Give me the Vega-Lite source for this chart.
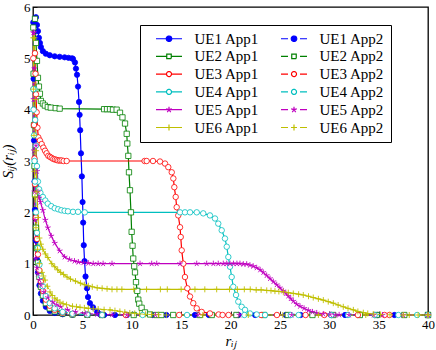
{
"$schema": "https://vega.github.io/schema/vega-lite/v6.json",
"width": 395, "height": 308,
"autosize": {"type": "none"},
"padding": {"left": 33, "top": 7, "right": 8, "bottom": 35},
"config": {
  "view": {"stroke": "#000", "strokeWidth": 1.3},
  "axis": {"labelFont": "Liberation Serif", "labelFontSize": 13, "labelColor": "#000", "titleFont": "Liberation Serif", "titleFontSize": 15, "titleFontStyle": "italic", "titleFontWeight": "normal", "titleColor": "#000", "grid": false, "domain": false, "tickColor": "#000", "tickSize": -4, "tickWidth": 0.8, "labelPadding": 7, "labelFlush": false}
},
"data": {"values": [
{"s":"UE1 App1","x":0.3,"y":5.8},{"s":"UE1 App1","x":0.4,"y":5.65},{"s":"UE1 App1","x":0.5,"y":5.53},{"s":"UE1 App1","x":0.6,"y":5.4},{"s":"UE1 App1","x":0.7,"y":5.3},{"s":"UE1 App1","x":0.8,"y":5.22},{"s":"UE1 App1","x":1.0,"y":5.14},{"s":"UE1 App1","x":1.3,"y":5.09},{"s":"UE1 App1","x":1.7,"y":5.06},{"s":"UE1 App1","x":2.2,"y":5.04},{"s":"UE1 App1","x":2.7,"y":5.03},{"s":"UE1 App1","x":3.2,"y":5.02},{"s":"UE1 App1","x":3.6,"y":5.01},{"s":"UE1 App1","x":3.95,"y":5.0},{"s":"UE1 App1","x":4.05,"y":4.99},{"s":"UE1 App1","x":4.25,"y":4.92},{"s":"UE1 App1","x":4.35,"y":4.8},{"s":"UE1 App1","x":4.46,"y":4.68},{"s":"UE1 App1","x":4.56,"y":4.45},{"s":"UE1 App1","x":4.66,"y":4.15},{"s":"UE1 App1","x":4.72,"y":3.9},{"s":"UE1 App1","x":4.78,"y":3.6},{"s":"UE1 App1","x":4.86,"y":3.15},{"s":"UE1 App1","x":4.95,"y":2.7},{"s":"UE1 App1","x":5.02,"y":2.2},{"s":"UE1 App1","x":5.08,"y":1.8},{"s":"UE1 App1","x":5.14,"y":1.36},{"s":"UE1 App1","x":5.22,"y":1.05},{"s":"UE1 App1","x":5.32,"y":0.75},{"s":"UE1 App1","x":5.47,"y":0.52},{"s":"UE1 App1","x":5.57,"y":0.35},{"s":"UE1 App1","x":5.77,"y":0.23},{"s":"UE1 App1","x":6.08,"y":0.15},{"s":"UE1 App1","x":6.5,"y":0.06},{"s":"UE1 App1","x":6.8,"y":0.01},{"s":"UE1 App1","x":7.2,"y":0},{"s":"UE1 App1","x":9.5,"y":0},{"s":"UE1 App1","x":13.5,"y":0},{"s":"UE1 App1","x":17.8,"y":0},{"s":"UE1 App1","x":22.5,"y":0},{"s":"UE1 App1","x":27.1,"y":0},{"s":"UE1 App1","x":31.6,"y":0},{"s":"UE1 App1","x":36.6,"y":0},{"s":"UE1 App1","x":40,"y":0},
{"s":"UE1 App2","x":0.03,"y":5.7},{"s":"UE1 App2","x":0.06,"y":4.6},{"s":"UE1 App2","x":0.1,"y":3.4},{"s":"UE1 App2","x":0.15,"y":2.6},{"s":"UE1 App2","x":0.2,"y":2.05},{"s":"UE1 App2","x":0.3,"y":1.45},{"s":"UE1 App2","x":0.4,"y":1.08},{"s":"UE1 App2","x":0.5,"y":0.83},{"s":"UE1 App2","x":0.65,"y":0.58},{"s":"UE1 App2","x":0.8,"y":0.42},{"s":"UE1 App2","x":1.0,"y":0.28},{"s":"UE1 App2","x":1.3,"y":0.16},{"s":"UE1 App2","x":1.7,"y":0.08},{"s":"UE1 App2","x":2.2,"y":0.04},{"s":"UE1 App2","x":3.0,"y":0.015},{"s":"UE1 App2","x":4.0,"y":0.005},{"s":"UE1 App2","x":5.5,"y":0},{"s":"UE1 App2","x":8.3,"y":0},{"s":"UE1 App2","x":12.1,"y":0},{"s":"UE1 App2","x":16.4,"y":0},{"s":"UE1 App2","x":20.8,"y":0},{"s":"UE1 App2","x":25.6,"y":0},{"s":"UE1 App2","x":30.2,"y":0},{"s":"UE1 App2","x":34.9,"y":0},{"s":"UE1 App2","x":40,"y":0},
{"s":"UE2 App1","x":0.2,"y":5.77},{"s":"UE2 App1","x":0.3,"y":5.3},{"s":"UE2 App1","x":0.4,"y":4.95},{"s":"UE2 App1","x":0.5,"y":4.62},{"s":"UE2 App1","x":0.6,"y":4.45},{"s":"UE2 App1","x":0.7,"y":4.31},{"s":"UE2 App1","x":0.8,"y":4.17},{"s":"UE2 App1","x":1.0,"y":4.12},{"s":"UE2 App1","x":1.2,"y":4.08},{"s":"UE2 App1","x":1.5,"y":4.05},{"s":"UE2 App1","x":1.8,"y":4.04},{"s":"UE2 App1","x":2.3,"y":4.03},{"s":"UE2 App1","x":2.7,"y":4.02},{"s":"UE2 App1","x":7.2,"y":4.01},{"s":"UE2 App1","x":7.5,"y":4.01},{"s":"UE2 App1","x":7.8,"y":4.01},{"s":"UE2 App1","x":8.1,"y":4.0},{"s":"UE2 App1","x":8.47,"y":4.0},{"s":"UE2 App1","x":8.81,"y":3.94},{"s":"UE2 App1","x":9.06,"y":3.85},{"s":"UE2 App1","x":9.32,"y":3.73},{"s":"UE2 App1","x":9.49,"y":3.53},{"s":"UE2 App1","x":9.55,"y":3.34},{"s":"UE2 App1","x":9.65,"y":3.1},{"s":"UE2 App1","x":9.72,"y":2.78},{"s":"UE2 App1","x":9.82,"y":2.43},{"s":"UE2 App1","x":9.92,"y":2.0},{"s":"UE2 App1","x":9.99,"y":1.62},{"s":"UE2 App1","x":10.08,"y":1.35},{"s":"UE2 App1","x":10.15,"y":1.1},{"s":"UE2 App1","x":10.25,"y":0.95},{"s":"UE2 App1","x":10.33,"y":0.83},{"s":"UE2 App1","x":10.43,"y":0.64},{"s":"UE2 App1","x":10.56,"y":0.47},{"s":"UE2 App1","x":10.66,"y":0.3},{"s":"UE2 App1","x":10.76,"y":0.22},{"s":"UE2 App1","x":11.0,"y":0.14},{"s":"UE2 App1","x":11.34,"y":0.05},{"s":"UE2 App1","x":11.85,"y":0.01},{"s":"UE2 App1","x":12.5,"y":0},{"s":"UE2 App1","x":14.2,"y":0},{"s":"UE2 App1","x":16.9,"y":0},{"s":"UE2 App1","x":20.6,"y":0},{"s":"UE2 App1","x":25.8,"y":0},{"s":"UE2 App1","x":30.4,"y":0},{"s":"UE2 App1","x":34.8,"y":0},{"s":"UE2 App1","x":40,"y":0},
{"s":"UE2 App2","x":0.03,"y":5.6},{"s":"UE2 App2","x":0.06,"y":4.7},{"s":"UE2 App2","x":0.1,"y":3.7},{"s":"UE2 App2","x":0.15,"y":2.9},{"s":"UE2 App2","x":0.2,"y":2.35},{"s":"UE2 App2","x":0.3,"y":1.7},{"s":"UE2 App2","x":0.4,"y":1.3},{"s":"UE2 App2","x":0.5,"y":1.02},{"s":"UE2 App2","x":0.65,"y":0.74},{"s":"UE2 App2","x":0.8,"y":0.55},{"s":"UE2 App2","x":1.0,"y":0.38},{"s":"UE2 App2","x":1.3,"y":0.23},{"s":"UE2 App2","x":1.7,"y":0.13},{"s":"UE2 App2","x":2.2,"y":0.07},{"s":"UE2 App2","x":3.0,"y":0.03},{"s":"UE2 App2","x":4.0,"y":0.01},{"s":"UE2 App2","x":5.5,"y":0.003},{"s":"UE2 App2","x":7,"y":0},{"s":"UE2 App2","x":10.2,"y":0},{"s":"UE2 App2","x":13.0,"y":0},{"s":"UE2 App2","x":18.1,"y":0},{"s":"UE2 App2","x":23.4,"y":0},{"s":"UE2 App2","x":28.3,"y":0},{"s":"UE2 App2","x":33.1,"y":0},{"s":"UE2 App2","x":37.6,"y":0},{"s":"UE2 App2","x":40,"y":0},
{"s":"UE3 App1","x":0.2,"y":5.1},{"s":"UE3 App1","x":0.25,"y":4.7},{"s":"UE3 App1","x":0.3,"y":4.3},{"s":"UE3 App1","x":0.37,"y":3.95},{"s":"UE3 App1","x":0.45,"y":3.65},{"s":"UE3 App1","x":0.54,"y":3.46},{"s":"UE3 App1","x":0.7,"y":3.4},{"s":"UE3 App1","x":0.88,"y":3.33},{"s":"UE3 App1","x":1.05,"y":3.26},{"s":"UE3 App1","x":1.22,"y":3.2},{"s":"UE3 App1","x":1.38,"y":3.15},{"s":"UE3 App1","x":1.55,"y":3.1},{"s":"UE3 App1","x":1.72,"y":3.08},{"s":"UE3 App1","x":1.89,"y":3.06},{"s":"UE3 App1","x":2.06,"y":3.04},{"s":"UE3 App1","x":2.23,"y":3.03},{"s":"UE3 App1","x":2.4,"y":3.02},{"s":"UE3 App1","x":2.56,"y":3.01},{"s":"UE3 App1","x":2.73,"y":3.01},{"s":"UE3 App1","x":2.9,"y":3.01},{"s":"UE3 App1","x":3.1,"y":3.0},{"s":"UE3 App1","x":3.41,"y":3.0},{"s":"UE3 App1","x":11.3,"y":3.0},{"s":"UE3 App1","x":11.51,"y":3.0},{"s":"UE3 App1","x":12.15,"y":3.0},{"s":"UE3 App1","x":12.86,"y":2.99},{"s":"UE3 App1","x":13.37,"y":2.95},{"s":"UE3 App1","x":13.7,"y":2.88},{"s":"UE3 App1","x":14.05,"y":2.78},{"s":"UE3 App1","x":14.21,"y":2.66},{"s":"UE3 App1","x":14.31,"y":2.49},{"s":"UE3 App1","x":14.45,"y":2.3},{"s":"UE3 App1","x":14.55,"y":2.1},{"s":"UE3 App1","x":14.71,"y":1.94},{"s":"UE3 App1","x":14.89,"y":1.71},{"s":"UE3 App1","x":14.96,"y":1.52},{"s":"UE3 App1","x":15.06,"y":1.26},{"s":"UE3 App1","x":15.22,"y":1.0},{"s":"UE3 App1","x":15.39,"y":0.74},{"s":"UE3 App1","x":15.63,"y":0.52},{"s":"UE3 App1","x":15.9,"y":0.36},{"s":"UE3 App1","x":16.23,"y":0.23},{"s":"UE3 App1","x":16.58,"y":0.13},{"s":"UE3 App1","x":17.08,"y":0.06},{"s":"UE3 App1","x":17.92,"y":0.03},{"s":"UE3 App1","x":18.8,"y":0.01},{"s":"UE3 App1","x":19.8,"y":0},{"s":"UE3 App1","x":23.1,"y":0},{"s":"UE3 App1","x":27.6,"y":0},{"s":"UE3 App1","x":32.9,"y":0},{"s":"UE3 App1","x":36.1,"y":0},{"s":"UE3 App1","x":40,"y":0},
{"s":"UE3 App2","x":0.03,"y":5.0},{"s":"UE3 App2","x":0.06,"y":4.4},{"s":"UE3 App2","x":0.1,"y":3.7},{"s":"UE3 App2","x":0.15,"y":3.05},{"s":"UE3 App2","x":0.2,"y":2.55},{"s":"UE3 App2","x":0.3,"y":1.9},{"s":"UE3 App2","x":0.4,"y":1.48},{"s":"UE3 App2","x":0.5,"y":1.18},{"s":"UE3 App2","x":0.65,"y":0.87},{"s":"UE3 App2","x":0.8,"y":0.66},{"s":"UE3 App2","x":1.0,"y":0.47},{"s":"UE3 App2","x":1.3,"y":0.3},{"s":"UE3 App2","x":1.7,"y":0.18},{"s":"UE3 App2","x":2.2,"y":0.1},{"s":"UE3 App2","x":3.0,"y":0.045},{"s":"UE3 App2","x":4.0,"y":0.02},{"s":"UE3 App2","x":5.5,"y":0.006},{"s":"UE3 App2","x":7,"y":0},{"s":"UE3 App2","x":9.4,"y":0},{"s":"UE3 App2","x":14.8,"y":0},{"s":"UE3 App2","x":19.2,"y":0},{"s":"UE3 App2","x":24.7,"y":0},{"s":"UE3 App2","x":29.5,"y":0},{"s":"UE3 App2","x":35.6,"y":0},{"s":"UE3 App2","x":40,"y":0},
{"s":"UE4 App1","x":0.15,"y":4.4},{"s":"UE4 App1","x":0.22,"y":3.8},{"s":"UE4 App1","x":0.3,"y":3.3},{"s":"UE4 App1","x":0.4,"y":2.9},{"s":"UE4 App1","x":0.5,"y":2.6},{"s":"UE4 App1","x":0.62,"y":2.45},{"s":"UE4 App1","x":0.75,"y":2.38},{"s":"UE4 App1","x":1.0,"y":2.3},{"s":"UE4 App1","x":1.25,"y":2.23},{"s":"UE4 App1","x":1.5,"y":2.17},{"s":"UE4 App1","x":1.85,"y":2.12},{"s":"UE4 App1","x":2.2,"y":2.08},{"s":"UE4 App1","x":2.55,"y":2.06},{"s":"UE4 App1","x":2.87,"y":2.04},{"s":"UE4 App1","x":3.2,"y":2.03},{"s":"UE4 App1","x":3.54,"y":2.02},{"s":"UE4 App1","x":4.05,"y":2.01},{"s":"UE4 App1","x":4.56,"y":2.01},{"s":"UE4 App1","x":5.24,"y":2.0},{"s":"UE4 App1","x":14.89,"y":2.0},{"s":"UE4 App1","x":15.39,"y":2.0},{"s":"UE4 App1","x":15.9,"y":2.0},{"s":"UE4 App1","x":16.58,"y":2.0},{"s":"UE4 App1","x":17.24,"y":1.98},{"s":"UE4 App1","x":17.92,"y":1.94},{"s":"UE4 App1","x":18.43,"y":1.88},{"s":"UE4 App1","x":18.76,"y":1.78},{"s":"UE4 App1","x":19.11,"y":1.65},{"s":"UE4 App1","x":19.44,"y":1.49},{"s":"UE4 App1","x":19.62,"y":1.33},{"s":"UE4 App1","x":19.78,"y":1.13},{"s":"UE4 App1","x":19.95,"y":0.94},{"s":"UE4 App1","x":20.12,"y":0.74},{"s":"UE4 App1","x":20.28,"y":0.55},{"s":"UE4 App1","x":20.56,"y":0.39},{"s":"UE4 App1","x":20.79,"y":0.26},{"s":"UE4 App1","x":21.13,"y":0.16},{"s":"UE4 App1","x":21.47,"y":0.1},{"s":"UE4 App1","x":21.97,"y":0.03},{"s":"UE4 App1","x":22.65,"y":0.01},{"s":"UE4 App1","x":23.5,"y":0},{"s":"UE4 App1","x":26.1,"y":0},{"s":"UE4 App1","x":30.2,"y":0},{"s":"UE4 App1","x":34.6,"y":0},{"s":"UE4 App1","x":38.9,"y":0},{"s":"UE4 App1","x":40,"y":0},
{"s":"UE4 App2","x":0.03,"y":4.4},{"s":"UE4 App2","x":0.06,"y":4.0},{"s":"UE4 App2","x":0.1,"y":3.5},{"s":"UE4 App2","x":0.15,"y":3.0},{"s":"UE4 App2","x":0.2,"y":2.6},{"s":"UE4 App2","x":0.3,"y":2.0},{"s":"UE4 App2","x":0.4,"y":1.6},{"s":"UE4 App2","x":0.5,"y":1.3},{"s":"UE4 App2","x":0.65,"y":0.98},{"s":"UE4 App2","x":0.8,"y":0.76},{"s":"UE4 App2","x":1.0,"y":0.56},{"s":"UE4 App2","x":1.3,"y":0.37},{"s":"UE4 App2","x":1.7,"y":0.23},{"s":"UE4 App2","x":2.2,"y":0.13},{"s":"UE4 App2","x":3.0,"y":0.06},{"s":"UE4 App2","x":4.0,"y":0.025},{"s":"UE4 App2","x":5.5,"y":0.008},{"s":"UE4 App2","x":7,"y":0},{"s":"UE4 App2","x":11.1,"y":0},{"s":"UE4 App2","x":15.6,"y":0},{"s":"UE4 App2","x":21.4,"y":0},{"s":"UE4 App2","x":26.9,"y":0},{"s":"UE4 App2","x":31.9,"y":0},{"s":"UE4 App2","x":37.0,"y":0},{"s":"UE4 App2","x":40,"y":0},
{"s":"UE5 App1","x":0.1,"y":5.5},{"s":"UE5 App1","x":0.15,"y":4.8},{"s":"UE5 App1","x":0.2,"y":4.2},{"s":"UE5 App1","x":0.3,"y":3.3},{"s":"UE5 App1","x":0.4,"y":2.8},{"s":"UE5 App1","x":0.5,"y":2.4},{"s":"UE5 App1","x":0.62,"y":2.28},{"s":"UE5 App1","x":0.75,"y":2.2},{"s":"UE5 App1","x":1.0,"y":2.04},{"s":"UE5 App1","x":1.25,"y":1.85},{"s":"UE5 App1","x":1.5,"y":1.7},{"s":"UE5 App1","x":1.85,"y":1.54},{"s":"UE5 App1","x":2.2,"y":1.4},{"s":"UE5 App1","x":2.7,"y":1.25},{"s":"UE5 App1","x":3.2,"y":1.13},{"s":"UE5 App1","x":3.7,"y":1.08},{"s":"UE5 App1","x":4.2,"y":1.05},{"s":"UE5 App1","x":4.6,"y":1.03},{"s":"UE5 App1","x":5.1,"y":1.02},{"s":"UE5 App1","x":5.6,"y":1.01},{"s":"UE5 App1","x":6.1,"y":1.0},{"s":"UE5 App1","x":6.6,"y":1.0},{"s":"UE5 App1","x":7.1,"y":1.0},{"s":"UE5 App1","x":8.0,"y":1.0},{"s":"UE5 App1","x":10.84,"y":1.0},{"s":"UE5 App1","x":12.02,"y":1.0},{"s":"UE5 App1","x":12.53,"y":1.0},{"s":"UE5 App1","x":14.89,"y":1.0},{"s":"UE5 App1","x":16.58,"y":1.0},{"s":"UE5 App1","x":17.59,"y":1.0},{"s":"UE5 App1","x":18.26,"y":1.0},{"s":"UE5 App1","x":18.76,"y":1.0},{"s":"UE5 App1","x":19.27,"y":1.0},{"s":"UE5 App1","x":19.62,"y":1.0},{"s":"UE5 App1","x":19.95,"y":1.0},{"s":"UE5 App1","x":20.3,"y":1.0},{"s":"UE5 App1","x":20.65,"y":1.0},{"s":"UE5 App1","x":20.96,"y":1.0},{"s":"UE5 App1","x":21.3,"y":0.99},{"s":"UE5 App1","x":21.64,"y":0.99},{"s":"UE5 App1","x":21.97,"y":0.97},{"s":"UE5 App1","x":22.3,"y":0.95},{"s":"UE5 App1","x":22.65,"y":0.92},{"s":"UE5 App1","x":23.0,"y":0.88},{"s":"UE5 App1","x":23.32,"y":0.83},{"s":"UE5 App1","x":23.66,"y":0.77},{"s":"UE5 App1","x":24.0,"y":0.71},{"s":"UE5 App1","x":24.34,"y":0.65},{"s":"UE5 App1","x":24.68,"y":0.59},{"s":"UE5 App1","x":25.0,"y":0.53},{"s":"UE5 App1","x":25.35,"y":0.47},{"s":"UE5 App1","x":25.6,"y":0.42},{"s":"UE5 App1","x":25.85,"y":0.37},{"s":"UE5 App1","x":26.1,"y":0.32},{"s":"UE5 App1","x":26.36,"y":0.27},{"s":"UE5 App1","x":26.7,"y":0.21},{"s":"UE5 App1","x":27.04,"y":0.17},{"s":"UE5 App1","x":27.45,"y":0.13},{"s":"UE5 App1","x":27.88,"y":0.09},{"s":"UE5 App1","x":28.3,"y":0.06},{"s":"UE5 App1","x":28.73,"y":0.04},{"s":"UE5 App1","x":29.4,"y":0.02},{"s":"UE5 App1","x":30.08,"y":0.01},{"s":"UE5 App1","x":31,"y":0.003},{"s":"UE5 App1","x":32,"y":0},{"s":"UE5 App1","x":34.5,"y":0},{"s":"UE5 App1","x":37.5,"y":0},{"s":"UE5 App1","x":40,"y":0},
{"s":"UE5 App2","x":0.03,"y":5.5},{"s":"UE5 App2","x":0.06,"y":4.2},{"s":"UE5 App2","x":0.1,"y":3.2},{"s":"UE5 App2","x":0.15,"y":2.4},{"s":"UE5 App2","x":0.2,"y":1.85},{"s":"UE5 App2","x":0.3,"y":1.1},{"s":"UE5 App2","x":0.4,"y":0.92},{"s":"UE5 App2","x":0.5,"y":0.8},{"s":"UE5 App2","x":0.65,"y":0.68},{"s":"UE5 App2","x":0.8,"y":0.58},{"s":"UE5 App2","x":1.1,"y":0.45},{"s":"UE5 App2","x":1.5,"y":0.34},{"s":"UE5 App2","x":2.0,"y":0.25},{"s":"UE5 App2","x":2.4,"y":0.2},{"s":"UE5 App2","x":2.8,"y":0.16},{"s":"UE5 App2","x":3.5,"y":0.1},{"s":"UE5 App2","x":4.3,"y":0.06},{"s":"UE5 App2","x":5.3,"y":0.03},{"s":"UE5 App2","x":6.5,"y":0.015},{"s":"UE5 App2","x":8,"y":0.005},{"s":"UE5 App2","x":9.5,"y":0},{"s":"UE5 App2","x":12.4,"y":0},{"s":"UE5 App2","x":16.7,"y":0},{"s":"UE5 App2","x":20.9,"y":0},{"s":"UE5 App2","x":26.2,"y":0},{"s":"UE5 App2","x":30.6,"y":0},{"s":"UE5 App2","x":35.4,"y":0},{"s":"UE5 App2","x":40,"y":0},
{"s":"UE6 App1","x":0.15,"y":5.4},{"s":"UE6 App1","x":0.22,"y":4.2},{"s":"UE6 App1","x":0.3,"y":3.2},{"s":"UE6 App1","x":0.4,"y":2.4},{"s":"UE6 App1","x":0.5,"y":1.9},{"s":"UE6 App1","x":0.65,"y":1.5},{"s":"UE6 App1","x":0.8,"y":1.38},{"s":"UE6 App1","x":1.0,"y":1.28},{"s":"UE6 App1","x":1.25,"y":1.19},{"s":"UE6 App1","x":1.5,"y":1.12},{"s":"UE6 App1","x":1.9,"y":1.0},{"s":"UE6 App1","x":2.2,"y":0.94},{"s":"UE6 App1","x":2.5,"y":0.88},{"s":"UE6 App1","x":2.8,"y":0.83},{"s":"UE6 App1","x":3.1,"y":0.79},{"s":"UE6 App1","x":3.45,"y":0.74},{"s":"UE6 App1","x":3.8,"y":0.7},{"s":"UE6 App1","x":4.3,"y":0.66},{"s":"UE6 App1","x":4.8,"y":0.62},{"s":"UE6 App1","x":5.2,"y":0.59},{"s":"UE6 App1","x":5.6,"y":0.57},{"s":"UE6 App1","x":6.0,"y":0.55},{"s":"UE6 App1","x":6.5,"y":0.53},{"s":"UE6 App1","x":7.0,"y":0.52},{"s":"UE6 App1","x":7.5,"y":0.51},{"s":"UE6 App1","x":8.0,"y":0.5},{"s":"UE6 App1","x":8.5,"y":0.5},{"s":"UE6 App1","x":9.0,"y":0.5},{"s":"UE6 App1","x":10.2,"y":0.5},{"s":"UE6 App1","x":11.5,"y":0.5},{"s":"UE6 App1","x":12.9,"y":0.5},{"s":"UE6 App1","x":13.6,"y":0.5},{"s":"UE6 App1","x":15.0,"y":0.5},{"s":"UE6 App1","x":16.4,"y":0.5},{"s":"UE6 App1","x":17.4,"y":0.5},{"s":"UE6 App1","x":18.6,"y":0.5},{"s":"UE6 App1","x":19.9,"y":0.5},{"s":"UE6 App1","x":20.7,"y":0.5},{"s":"UE6 App1","x":21.4,"y":0.5},{"s":"UE6 App1","x":22.0,"y":0.5},{"s":"UE6 App1","x":22.6,"y":0.49},{"s":"UE6 App1","x":23.1,"y":0.49},{"s":"UE6 App1","x":23.67,"y":0.48},{"s":"UE6 App1","x":24.1,"y":0.475},{"s":"UE6 App1","x":24.5,"y":0.465},{"s":"UE6 App1","x":24.9,"y":0.458},{"s":"UE6 App1","x":25.35,"y":0.45},{"s":"UE6 App1","x":25.85,"y":0.435},{"s":"UE6 App1","x":26.36,"y":0.42},{"s":"UE6 App1","x":26.9,"y":0.405},{"s":"UE6 App1","x":27.37,"y":0.39},{"s":"UE6 App1","x":27.9,"y":0.365},{"s":"UE6 App1","x":28.38,"y":0.34},{"s":"UE6 App1","x":28.9,"y":0.315},{"s":"UE6 App1","x":29.4,"y":0.29},{"s":"UE6 App1","x":29.9,"y":0.26},{"s":"UE6 App1","x":30.41,"y":0.23},{"s":"UE6 App1","x":30.9,"y":0.195},{"s":"UE6 App1","x":31.42,"y":0.16},{"s":"UE6 App1","x":31.9,"y":0.13},{"s":"UE6 App1","x":32.44,"y":0.1},{"s":"UE6 App1","x":32.9,"y":0.07},{"s":"UE6 App1","x":33.45,"y":0.045},{"s":"UE6 App1","x":33.9,"y":0.03},{"s":"UE6 App1","x":34.46,"y":0.02},{"s":"UE6 App1","x":35.2,"y":0.01},{"s":"UE6 App1","x":36.15,"y":0.005},{"s":"UE6 App1","x":37.5,"y":0},{"s":"UE6 App1","x":39,"y":0},{"s":"UE6 App1","x":40,"y":0},
{"s":"UE6 App2","x":0.03,"y":5.4},{"s":"UE6 App2","x":0.06,"y":4.4},{"s":"UE6 App2","x":0.1,"y":3.5},{"s":"UE6 App2","x":0.15,"y":2.8},{"s":"UE6 App2","x":0.2,"y":2.3},{"s":"UE6 App2","x":0.3,"y":1.7},{"s":"UE6 App2","x":0.45,"y":1.28},{"s":"UE6 App2","x":0.65,"y":1.0},{"s":"UE6 App2","x":0.9,"y":0.83},{"s":"UE6 App2","x":1.05,"y":0.76},{"s":"UE6 App2","x":1.22,"y":0.68},{"s":"UE6 App2","x":1.45,"y":0.56},{"s":"UE6 App2","x":1.72,"y":0.45},{"s":"UE6 App2","x":1.95,"y":0.38},{"s":"UE6 App2","x":2.2,"y":0.33},{"s":"UE6 App2","x":2.45,"y":0.29},{"s":"UE6 App2","x":2.73,"y":0.25},{"s":"UE6 App2","x":3.05,"y":0.22},{"s":"UE6 App2","x":3.4,"y":0.2},{"s":"UE6 App2","x":4.0,"y":0.17},{"s":"UE6 App2","x":4.4,"y":0.16},{"s":"UE6 App2","x":4.76,"y":0.15},{"s":"UE6 App2","x":5.2,"y":0.14},{"s":"UE6 App2","x":5.6,"y":0.13},{"s":"UE6 App2","x":6.1,"y":0.12},{"s":"UE6 App2","x":6.6,"y":0.115},{"s":"UE6 App2","x":7.2,"y":0.105},{"s":"UE6 App2","x":7.8,"y":0.1},{"s":"UE6 App2","x":8.3,"y":0.085},{"s":"UE6 App2","x":8.8,"y":0.07},{"s":"UE6 App2","x":9.3,"y":0.055},{"s":"UE6 App2","x":9.8,"y":0.04},{"s":"UE6 App2","x":10.3,"y":0.03},{"s":"UE6 App2","x":10.8,"y":0.02},{"s":"UE6 App2","x":11.4,"y":0.014},{"s":"UE6 App2","x":12,"y":0.01},{"s":"UE6 App2","x":12.7,"y":0.005},{"s":"UE6 App2","x":13.5,"y":0},{"s":"UE6 App2","x":17.2,"y":0},{"s":"UE6 App2","x":21.8,"y":0},{"s":"UE6 App2","x":25.3,"y":0},{"s":"UE6 App2","x":28.9,"y":0},{"s":"UE6 App2","x":33.7,"y":0},{"s":"UE6 App2","x":38.1,"y":0},{"s":"UE6 App2","x":40,"y":0}
]},
"encoding": {
  "x": {"field": "x", "type": "quantitative", "scale": {"domain": [0, 40], "nice": false}, "axis": {"values": [0,5,10,15,20,25,30,35,40], "title": "rᵢⱼ", "titlePadding": 2}},
  "y": {"field": "y", "type": "quantitative", "scale": {"domain": [0, 6], "nice": false}, "axis": {"values": [0,1,2,3,4,5,6], "title": "Sᵢⱼ(rᵢⱼ)", "titlePadding": 8}}
},
"layer": [
  {"transform": [{"filter": "indexof(datum.s, 'App1') >= 0"}],
   "mark": {"type": "line", "strokeWidth": 1.2},
   "encoding": {
     "stroke": {"field": "s", "type": "nominal",
       "scale": {"domain": ["UE1 App1","UE2 App1","UE3 App1","UE4 App1","UE5 App1","UE6 App1","UE1 App2","UE2 App2","UE3 App2","UE4 App2","UE5 App2","UE6 App2"],
                 "range": ["#0000ff","#008000","#ff0000","#00bfbf","#bf00bf","#bfbf00","#0000ff","#008000","#ff0000","#00bfbf","#bf00bf","#bfbf00"]},
       "legend": {"title": null, "orient": "none", "legendX": 107, "legendY": 18, "columns": 2, "padding": 6, "rowPadding": 1.8, "columnPadding": 11,
         "labelFont": "Liberation Serif", "labelFontSize": 15, "labelColor": "#000", "labelLimit": 0,
         "symbolSize": 100, "symbolStrokeWidth": 1.2, "symbolOffset": 15.5, "labelOffset": 18,
         "strokeColor": "#000", "fillColor": "#fff",
         "labelExpr": "indexof(datum.label, 'App2') >= 0 ? datum.label + '\u00a0\u00a0\u00a0\u00a0\u00a0\u00a0\u00a0\u00a0\u00a0\u00a0\u00a0\u00a0\u00a0\u00a0\u00a0\u00a0' : datum.label",
         "encode": {"symbols": {"update": {
           "shape": {"signal": "['M-2.6,0H2.6M0.55,0A0.55,0.55,0,1,1,-0.55,0A0.55,0.55,0,1,1,0.55,0Z','M-2.6,0H-1.2M1.2,0H2.6M0.55,0A0.55,0.55,0,1,1,-0.55,0A0.55,0.55,0,1,1,0.55,0Z','M-2.6,0H-0.45M0.45,0H2.6M-0.45,-0.45H0.45V0.45H-0.45Z','M-2.6,0H-1.2M1.2,0H2.6M-0.45,-0.45H0.45V0.45H-0.45Z','M-2.6,0H-0.5M0.5,0H2.6M0.5,0A0.5,0.5,0,1,1,-0.5,0A0.5,0.5,0,1,1,0.5,0Z','M-2.6,0H-1.2M1.2,0H2.6M0.5,0A0.5,0.5,0,1,1,-0.5,0A0.5,0.5,0,1,1,0.5,0Z','M-2.6,0H-0.5M0.5,0H2.6M0.5,0A0.5,0.5,0,1,1,-0.5,0A0.5,0.5,0,1,1,0.5,0Z','M-2.6,0H-1.2M1.2,0H2.6M0.5,0A0.5,0.5,0,1,1,-0.5,0A0.5,0.5,0,1,1,0.5,0Z','M-2.6,0H2.6M0,0L0,-0.6M0,0L0.57,-0.19M0,0L0.35,0.49M0,0L-0.35,0.49M0,0L-0.57,-0.19','M-2.6,0H-1.2M1.2,0H2.6M0,0L0,-0.6M0,0L0.57,-0.19M0,0L0.35,0.49M0,0L-0.35,0.49M0,0L-0.57,-0.19','M-2.6,0H2.6M0,-0.6V0.6','M-2.6,0H-1.2M1.2,0H2.6M-0.6,0H0.6M0,-0.6V0.6'][indexof(['UE1 App1','UE1 App2','UE2 App1','UE2 App2','UE3 App1','UE3 App2','UE4 App1','UE4 App2','UE5 App1','UE5 App2','UE6 App1','UE6 App2'], datum.value)]"},
           "fill": {"signal": "indexof(datum.value, 'UE1') >= 0 ? '#0000ff' : '#ffffff'"},
           "strokeDash": {"value": [1, 0]},
           "strokeWidth": {"value": 1.2},
           "opacity": {"value": 1}
         }}}
       }}
   }},
  {"transform": [{"filter": "indexof(datum.s, 'App2') >= 0"}],
   "mark": {"type": "line", "strokeWidth": 1.2, "strokeDash": [5, 3]},
   "encoding": {"stroke": {"field": "s", "type": "nominal", "legend": null}}},
  {"transform": [{"filter": "indexof(datum.s, 'UE1') >= 0"}],
   "mark": {"type": "point", "shape": "circle", "size": 28, "fill": "#0000ff", "strokeWidth": 0.8, "opacity": 1},
   "encoding": {"stroke": {"field": "s", "type": "nominal", "legend": null}}},
  {"transform": [{"filter": "indexof(datum.s, 'UE2') >= 0"}],
   "mark": {"type": "point", "shape": "square", "size": 28, "fill": "#ffffff", "strokeWidth": 0.8, "opacity": 1},
   "encoding": {"stroke": {"field": "s", "type": "nominal", "legend": null}}},
  {"transform": [{"filter": "indexof(datum.s, 'UE3') >= 0 || indexof(datum.s, 'UE4') >= 0"}],
   "mark": {"type": "point", "shape": "circle", "size": 30, "fill": "#ffffff", "strokeWidth": 0.8, "opacity": 1},
   "encoding": {"stroke": {"field": "s", "type": "nominal", "legend": null}}},
  {"transform": [{"filter": "indexof(datum.s, 'UE5') >= 0"}],
   "mark": {"type": "point", "shape": "M0,0L0,-1M0,0L0.951,-0.309M0,0L0.588,0.809M0,0L-0.588,0.809M0,0L-0.951,-0.309", "size": 36, "fill": "#ffffff", "strokeWidth": 0.9, "opacity": 1},
   "encoding": {"stroke": {"field": "s", "type": "nominal", "legend": null}}},
  {"transform": [{"filter": "indexof(datum.s, 'UE6') >= 0"}],
   "mark": {"type": "point", "shape": "M-1,0H1M0,-1V1", "size": 36, "fill": "#ffffff", "strokeWidth": 0.9, "opacity": 1},
   "encoding": {"stroke": {"field": "s", "type": "nominal", "legend": null}}}
]
}
